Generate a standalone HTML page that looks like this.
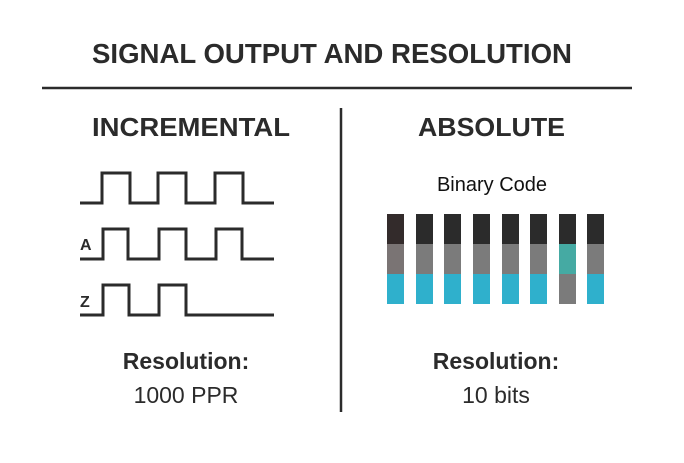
<!DOCTYPE html>
<html><head><meta charset="utf-8"><style>
html,body{margin:0;padding:0;background:#fff;}
svg{display:block;}
text{font-family:"Liberation Sans",sans-serif;fill:#2b2b2b;}
</style></head><body>
<svg width="684" height="463" viewBox="0 0 684 463" xmlns="http://www.w3.org/2000/svg">
<rect width="684" height="463" fill="#fff"/>
<text x="92" y="63" font-size="28" font-weight="bold" textLength="480" lengthAdjust="spacingAndGlyphs">SIGNAL OUTPUT AND RESOLUTION</text>
<line x1="42" y1="88" x2="632" y2="88" stroke="#2b2b2b" stroke-width="2.5"/>
<line x1="341" y1="108" x2="341" y2="412" stroke="#2b2b2b" stroke-width="2.5"/>
<text x="92" y="136" font-size="26" font-weight="bold" textLength="198" lengthAdjust="spacingAndGlyphs">INCREMENTAL</text>
<text x="418" y="136" font-size="26" font-weight="bold" textLength="147" lengthAdjust="spacingAndGlyphs">ABSOLUTE</text>
<g fill="none" stroke="#2b2b2b" stroke-width="3">
<polyline points="80,203 102,203 102,173 130,173 130,203 158,203 158,173 186,173 186,203 215,203 215,173 243,173 243,203 274,203"/>
<polyline points="80,259 103,259 103,229 128,229 128,259 159,259 159,229 186,229 186,259 216,259 216,229 242,229 242,259 274,259"/>
<polyline points="80,315 103,315 103,285 129,285 129,315 159,315 159,285 186,285 186,315 274,315"/>
</g>
<text x="80" y="250" font-size="16" font-weight="bold">A</text>
<text x="80" y="307" font-size="16" font-weight="bold">Z</text>
<text x="492" y="191" font-size="20" text-anchor="middle" style="fill:#111">Binary Code</text>
<g>
<rect x="387" y="214" width="17" height="30" fill="#332b2b"/><rect x="387" y="244" width="17" height="30" fill="#7a7474"/><rect x="387" y="274" width="17" height="30" fill="#2fb0cc"/>
<rect x="416" y="214" width="17" height="30" fill="#2b2b2b"/><rect x="416" y="244" width="17" height="30" fill="#7b7b7b"/><rect x="416" y="274" width="17" height="30" fill="#2fb0cc"/>
<rect x="444" y="214" width="17" height="30" fill="#2b2b2b"/><rect x="444" y="244" width="17" height="30" fill="#7b7b7b"/><rect x="444" y="274" width="17" height="30" fill="#2fb0cc"/>
<rect x="473" y="214" width="17" height="30" fill="#2b2b2b"/><rect x="473" y="244" width="17" height="30" fill="#7b7b7b"/><rect x="473" y="274" width="17" height="30" fill="#2fb0cc"/>
<rect x="502" y="214" width="17" height="30" fill="#2b2b2b"/><rect x="502" y="244" width="17" height="30" fill="#7b7b7b"/><rect x="502" y="274" width="17" height="30" fill="#2fb0cc"/>
<rect x="530" y="214" width="17" height="30" fill="#2b2b2b"/><rect x="530" y="244" width="17" height="30" fill="#7b7b7b"/><rect x="530" y="274" width="17" height="30" fill="#2fb0cc"/>
<rect x="559" y="214" width="17" height="30" fill="#2b2b2b"/><rect x="559" y="244" width="17" height="30" fill="#45aaa3"/><rect x="559" y="274" width="17" height="30" fill="#7b7b7b"/>
<rect x="587" y="214" width="17" height="30" fill="#2b2b2b"/><rect x="587" y="244" width="17" height="30" fill="#7b7b7b"/><rect x="587" y="274" width="17" height="30" fill="#2fb0cc"/>
</g>
<text x="186" y="369" font-size="23" font-weight="bold" text-anchor="middle">Resolution:</text>
<text x="186" y="403" font-size="23" text-anchor="middle">1000 PPR</text>
<text x="496" y="369" font-size="23" font-weight="bold" text-anchor="middle">Resolution:</text>
<text x="496" y="403" font-size="23" text-anchor="middle">10 bits</text>
</svg>
</body></html>
